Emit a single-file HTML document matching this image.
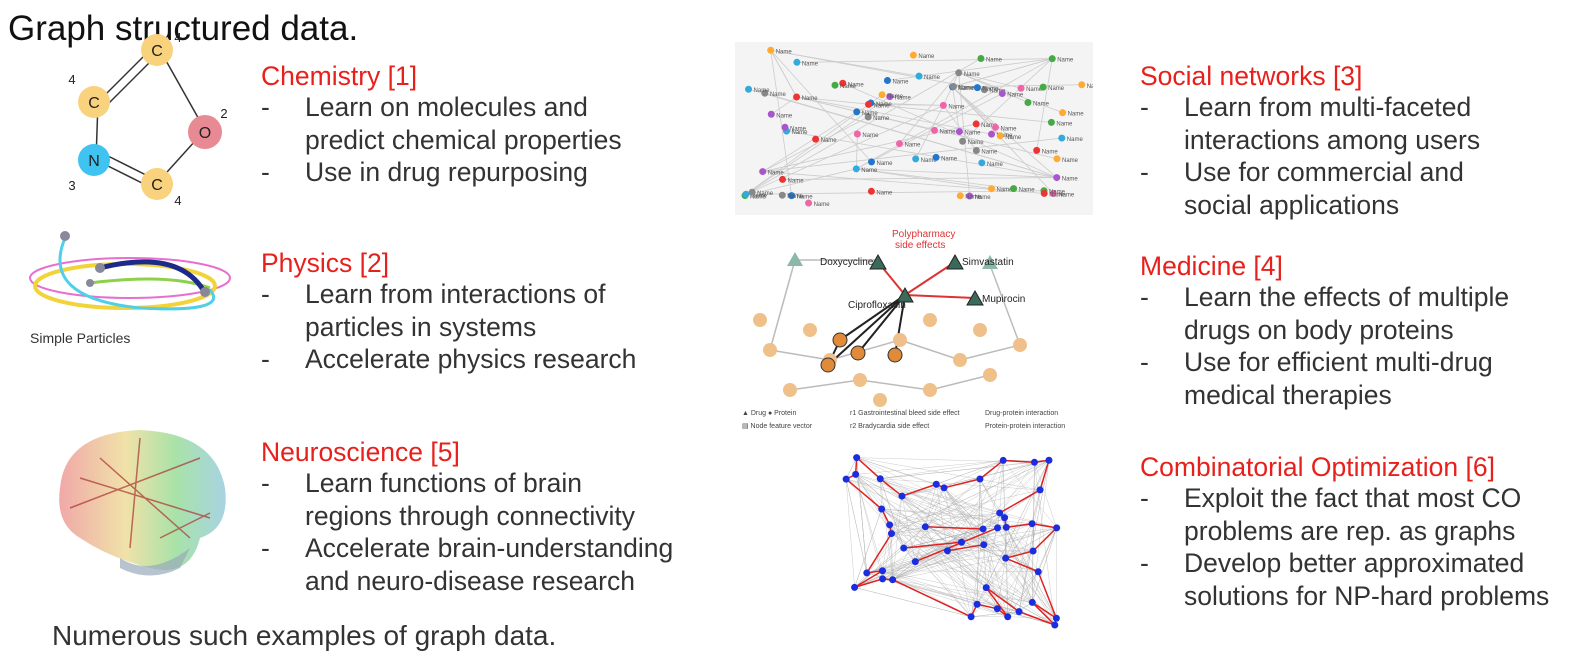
<!DOCTYPE html>
<html><head><meta charset="utf-8"><style>
body{margin:0;width:1574px;height:662px;background:#fff;position:relative;overflow:hidden;font-family:"Liberation Sans",Arial,sans-serif;color:#333}
.t{position:absolute;white-space:nowrap}
.h{color:#e8201c;font-size:26.5px;line-height:30px}
.b{font-size:26.5px;line-height:32.5px;color:#333}
.b div{position:relative;padding-left:44px}
.b div.d::before{content:"-";position:absolute;left:0}
svg{position:absolute}
</style></head><body>
<div class="t" style="left:8px;top:9px;font-size:35px;color:#111">Graph structured data.</div>

<svg style="left:60px;top:2px" width="190" height="210">
<g stroke="#333" stroke-width="1.5" fill="none">
<line x1="38" y1="100" x2="90" y2="48"/><line x1="44" y1="106" x2="96" y2="54"/>
<line x1="100" y1="48" x2="145" y2="128"/><line x1="145" y1="128" x2="98" y2="180"/>
<line x1="38" y1="100" x2="36" y2="158"/>
<line x1="40" y1="160" x2="90" y2="185"/><line x1="44" y1="152" x2="94" y2="177"/></g>
<circle cx="97" cy="48" r="16" fill="#f9d27d"/><circle cx="34" cy="100" r="16" fill="#f9d27d"/>
<circle cx="145" cy="130" r="17" fill="#e88a93"/><circle cx="34" cy="158" r="16" fill="#3fc3f1"/>
<circle cx="97" cy="182" r="16" fill="#f9d27d"/>
<g font-size="16" text-anchor="middle" fill="#222"><text x="97" y="54">C</text><text x="34" y="106">C</text><text x="145" y="136">O</text><text x="34" y="164">N</text><text x="97" y="188">C</text>
<text x="118" y="40" font-size="13">4</text><text x="12" y="82" font-size="13">4</text><text x="164" y="116" font-size="13">2</text><text x="12" y="188" font-size="13">3</text><text x="118" y="203" font-size="13">4</text></g>
</svg>

<svg style="left:20px;top:228px" width="230" height="120">
<ellipse cx="110" cy="50" rx="100" ry="20" fill="none" stroke="#e66fd0" stroke-width="2"/>
<ellipse cx="105" cy="58" rx="90" ry="22" fill="none" stroke="#f2d33a" stroke-width="4"/>
<path d="M45 10 Q20 70 120 80 Q210 85 190 62" fill="none" stroke="#4fd0e8" stroke-width="3"/>
<path d="M70 55 Q150 45 190 60" fill="none" stroke="#8ed04a" stroke-width="3"/>
<path d="M80 40 Q160 20 185 65" fill="none" stroke="#1c2a8a" stroke-width="5"/>
<circle cx="45" cy="8" r="5" fill="#889"/><circle cx="80" cy="40" r="5" fill="#889"/><circle cx="70" cy="55" r="4" fill="#889"/><circle cx="185" cy="64" r="5" fill="#889"/>
<text x="10" y="115" font-size="14" fill="#333">Simple Particles</text>
</svg>

<svg style="left:40px;top:418px" width="200" height="170">
<defs><linearGradient id="bg" x1="0" x2="1"><stop offset="0" stop-color="#e99"/><stop offset=".4" stop-color="#ed9"/><stop offset=".7" stop-color="#9d9"/><stop offset="1" stop-color="#9cd"/></linearGradient></defs>
<path d="M20 70 Q25 15 100 12 Q175 15 185 70 Q190 110 160 120 Q150 160 110 150 Q70 140 40 120 Q15 105 20 70Z" fill="url(#bg)" opacity=".85"/>
<path d="M80 140 Q110 160 150 130 L140 150 Q110 165 80 150Z" fill="#9ab" opacity=".7"/>
<g stroke="#a33" stroke-width="1.5" opacity=".7"><line x1="40" y1="60" x2="170" y2="100"/><line x1="60" y1="40" x2="150" y2="120"/><line x1="30" y1="90" x2="160" y2="40"/><line x1="100" y1="20" x2="90" y2="130"/><line x1="120" y1="120" x2="170" y2="95"/></g>
</svg>

<div class="t" style="left:261px;top:61px">
<div class="h">Chemistry [1]</div>
<div class="b"><div class="d">Learn on molecules and</div><div>predict chemical properties</div><div class="d">Use in drug repurposing</div></div></div>

<div class="t" style="left:261px;top:248px">
<div class="h">Physics [2]</div>
<div class="b"><div class="d">Learn from interactions of</div><div>particles in systems</div><div class="d">Accelerate physics research</div></div></div>

<div class="t" style="left:261px;top:437px">
<div class="h">Neuroscience [5]</div>
<div class="b"><div class="d">Learn functions of brain</div><div>regions through connectivity</div><div class="d">Accelerate brain-understanding</div><div>and neuro-disease research</div></div></div>

<div class="t" style="left:1140px;top:61px">
<div class="h">Social networks [3]</div>
<div class="b"><div class="d">Learn from multi-faceted</div><div>interactions among users</div><div class="d">Use for commercial and</div><div>social applications</div></div></div>

<div class="t" style="left:1140px;top:251px">
<div class="h">Medicine [4]</div>
<div class="b"><div class="d">Learn the effects of multiple</div><div>drugs on body proteins</div><div class="d">Use for efficient multi-drug</div><div>medical therapies</div></div></div>

<div class="t" style="left:1140px;top:452px">
<div class="h">Combinatorial Optimization [6]</div>
<div class="b"><div class="d">Exploit the fact that most CO</div><div>problems are rep. as graphs</div><div class="d">Develop better approximated</div><div>solutions for NP-hard problems</div></div></div>

<div class="t" style="left:52px;top:620px;font-size:28px;color:#333">Numerous such examples of graph data.</div>

<svg id="soc" style="left:735px;top:42px;background:#f4f4f4" width="358" height="173"></svg>
<svg id="med" style="left:730px;top:210px" width="366" height="225">
<g stroke="#bbb" stroke-width="1.5"><line x1="65" y1="50" x2="40" y2="140"/><line x1="40" y1="140" x2="100" y2="150"/><line x1="100" y1="150" x2="170" y2="130"/><line x1="170" y1="130" x2="230" y2="150"/><line x1="230" y1="150" x2="290" y2="135"/><line x1="260" y1="55" x2="290" y2="135"/><line x1="60" y1="180" x2="130" y2="170"/><line x1="130" y1="170" x2="200" y2="180"/><line x1="200" y1="180" x2="260" y2="165"/><line x1="65" y1="50" x2="145" y2="50"/></g>
<g stroke="#222" stroke-width="2"><line x1="175" y1="85" x2="110" y2="130"/><line x1="175" y1="85" x2="98" y2="155"/><line x1="175" y1="85" x2="128" y2="143"/><line x1="175" y1="85" x2="165" y2="145"/><line x1="110" y1="130" x2="98" y2="155"/></g>
<g stroke="#d33" stroke-width="2"><line x1="148" y1="52" x2="175" y2="85"/><line x1="175" y1="85" x2="225" y2="52"/><line x1="175" y1="85" x2="245" y2="88"/></g>
<g fill="#f0c08a" id="prot"></g>
<g fill="#e08a3a" stroke="#333"><circle cx="110" cy="130" r="7"/><circle cx="98" cy="155" r="7"/><circle cx="128" cy="143" r="7"/><circle cx="165" cy="145" r="7"/></g>
<g fill="#8bb8a8"><polygon points="65,42 57,56 73,56"/><polygon points="260,45 252,59 268,59"/></g>
<g fill="#3a6a5a" stroke="#222"><polygon points="148,45 140,59 156,59"/><polygon points="175,78 167,92 183,92"/><polygon points="225,45 217,59 233,59"/><polygon points="245,81 237,95 253,95"/></g>
<g font-size="10" fill="#222"><text x="90" y="55">Doxycycline</text><text x="118" y="98">Ciprofloxacin</text><text x="232" y="55">Simvastatin</text><text x="252" y="92">Mupirocin</text><text x="162" y="27" fill="#d33">Polypharmacy</text><text x="165" y="38" fill="#d33">side effects</text></g>
<g font-size="7" fill="#444"><text x="12" y="205">▲ Drug  ● Protein</text><text x="12" y="218">▤ Node feature vector</text><text x="120" y="205">r1 Gastrointestinal bleed side effect</text><text x="120" y="218">r2 Bradycardia side effect</text><text x="255" y="205">Drug-protein interaction</text><text x="255" y="218">Protein-protein interaction</text></g>
</svg>
<svg id="co" style="left:830px;top:450px" width="236" height="182"></svg>

<script>
let s=7;function r(){s=(s*16807)%2147483647;return s/2147483647;}
const NS="http://www.w3.org/2000/svg";
function el(p,t,a){const e=document.createElementNS(NS,t);for(const k in a)e.setAttribute(k,a[k]);p.appendChild(e);return e;}
const soc=document.getElementById('soc');const cols=['#4a4','#e33','#a5c','#3ad','#fa3','#888','#e6a','#27c'];const sp=[];
for(let i=0;i<70;i++)sp.push([10+r()*338,8+r()*158]);
for(let i=0;i<55;i++){const a=sp[i],b=sp[(i*7+3)%70];el(soc,'line',{x1:a[0],y1:a[1],x2:b[0],y2:b[1],stroke:'#ccc','stroke-width':0.8});}
sp.forEach((p,i)=>{el(soc,'circle',{cx:p[0],cy:p[1],r:3.5,fill:cols[i%8]});const t=el(soc,'text',{x:p[0]+5,y:p[1]+3,'font-size':6,fill:'#555'});t.textContent='Name';});
const pr=document.getElementById('prot');[[40,140],[60,180],[100,150],[80,120],[130,170],[170,130],[200,180],[230,150],[260,165],[290,135],[200,110],[250,120],[150,190],[30,110]].forEach(p=>el(pr,'circle',{cx:p[0],cy:p[1],r:7}));
const co=document.getElementById('co');const cp=[];
for(let i=0;i<45;i++)cp.push([8+r()*220,6+r()*170]);
for(let i=0;i<300;i++){const a=cp[Math.floor(r()*45)],b=cp[Math.floor(r()*45)];el(co,'line',{x1:a[0],y1:a[1],x2:b[0],y2:b[1],stroke:'#aaa','stroke-width':0.5,opacity:.6});}
const outer=cp.filter(p=>Math.hypot(p[0]-118,(p[1]-91)*1.2)>55).sort((a,b)=>Math.atan2(a[1]-91,a[0]-118)-Math.atan2(b[1]-91,b[0]-118));
for(let i=0;i<outer.length;i++){const a=outer[i],b=outer[(i+1)%outer.length];el(co,'line',{x1:a[0],y1:a[1],x2:b[0],y2:b[1],stroke:'#d22','stroke-width':1.5});}
const inner=cp.filter(p=>Math.hypot(p[0]-118,(p[1]-91)*1.2)<=55);
for(let i=0;i+1<inner.length;i+=2){const a=inner[i],b=inner[i+1];el(co,'line',{x1:a[0],y1:a[1],x2:b[0],y2:b[1],stroke:'#d22','stroke-width':1.5});}
cp.forEach(p=>el(co,'circle',{cx:p[0],cy:p[1],r:3.5,fill:'#1a2ee0'}));
</script>
</body></html>
